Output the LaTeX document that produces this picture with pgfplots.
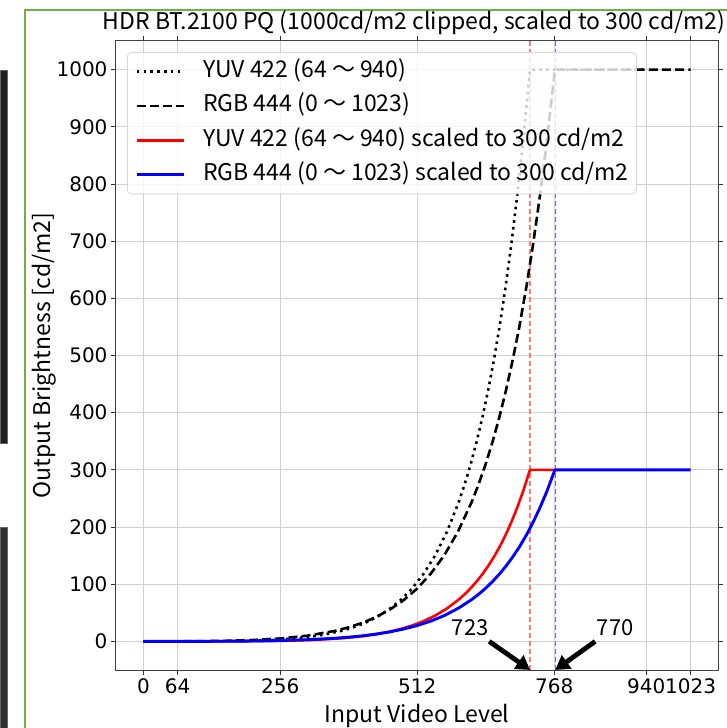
\documentclass[border=0pt]{standalone}
\usepackage{pgfplots}
\pgfplotsset{compat=1.18}
\usetikzlibrary{arrows.meta}
\usepackage{fontspec}
\setmainfont{Noto Sans CJK JP}
\newfontfamily\tickfont{DejaVu Sans}
\definecolor{framegreen}{RGB}{112,176,72}
\definecolor{vred}{RGB}{255,120,120}
\definecolor{vblue}{RGB}{100,100,255}
\begin{document}
\begin{tikzpicture}[x=1pt,y=1pt]
\useasboundingbox (-116,-58) rectangle (610,670);
% screenshot decorations
\fill[black!88,draw=black!60] (-116,600) rectangle (-109,227);
\fill[black!82,draw=black!60] (-116,143) rectangle (-109,-58);
\draw[framegreen,line width=2pt] (-91,-58) -- (-91,660) -- (612,660);
\begin{axis}[
  at={(0,0)}, anchor=south west,
  scale only axis, width=602pt, height=629pt,
  xmin=-51.15, xmax=1074.15, ymin=-50, ymax=1050,
  xtick={0,64,256,512,768,940,1023},
  ytick={0,100,200,300,400,500,600,700,800,900,1000},
  /pgf/number format/assume math mode=true,
  /pgf/number format/1000 sep={},
  ticklabel style={font=\tickfont\fontsize{20}{24}\selectfont},
  tick align=outside, major tick length=5pt,
  tick style={black!80, line width=0.8pt},
  axis line style={black!75, line width=1pt},
  grid=major, grid style={black!18, line width=0.9pt},
  title={HDR BT.2100 PQ (1000cd/m2 clipped, scaled to 300 cd/m2)},
  title style={font=\fontsize{23}{27}\selectfont, at={(axis description cs:0.495,1.0095)}, anchor=base},
  xlabel={Input Video Level},
  ylabel={Output Brightness [cd/m2]},
  label style={font=\fontsize{23}{27}\selectfont},
  xlabel style={at={(axis description cs:0.5,-0.0827)}, anchor=base},
  ylabel style={at={(axis description cs:-0.1096,0.5)}, anchor=base},
  legend cell align=left,
  legend style={at={(0,1)}, anchor=north west, xshift=11pt, yshift=-11pt,
    draw=black!15, line width=0.8pt, rounded corners=4pt, fill=white, fill opacity=0.8, text opacity=1,
    font=\fontsize{23}{27}\selectfont, row sep=12.5pt, column sep=18pt, inner xsep=8pt, inner ysep=8pt,
    nodes={inner sep=0pt, text height=17pt, text depth=5pt}},
  legend image code/.code={\draw[#1] (0pt,0pt) -- (47pt,0pt);},
]
% vertical guide lines
\addplot[vred, dash pattern=on 5pt off 3pt, line width=1.5pt, forget plot] coordinates {(723,-50) (723,1050)};
\addplot[vblue, dash pattern=on 5pt off 3pt, line width=1.7pt, forget plot] coordinates {(770.5,-50) (770.5,1050)};
% YUV 422 full
\addplot[black, line width=2.6pt, dash pattern=on 2.6pt off 4.2pt] coordinates {
(0,0) (64,0) (107.8,0.06) (151.6,0.32) (195.4,1.0) (239.2,2.43) (283,5.16) (326.8,10.0)
(370.6,18.4) (392.5,24.6) (414.4,32.4) (436.3,42.5) (458.2,55.4) (480.1,71.6) (502,92.2)
(523.9,118.3) (545.8,150.9) (567.7,192.2) (589.6,244.0) (600.55,274.6) (611.5,308.9)
(622.45,347.4) (633.4,390.4) (644.35,438.5) (655.3,492.5) (666.25,552.7) (677.2,620.7)
(688.15,696.9) (699.1,781.9) (710.05,876.6) (721,983.3) (722,993.8) (723,1000) (940,1000)};
\addlegendentry{YUV 422 (64 ～ 940)}
% RGB 444 full
\addplot[black, line width=2.6pt, dash pattern=on 9pt off 4.2pt] coordinates {
(0,0) (51.15,0.06) (102.3,0.32) (153.45,1.0) (204.6,2.43) (255.75,5.16) (306.9,10.0)
(358.05,18.4) (383.6,24.6) (409.2,32.4) (434.8,42.5) (460.35,55.4) (485.9,71.6) (511.5,92.2)
(537.1,118.3) (562.65,150.9) (588.2,192.2) (613.8,244.0) (626.6,274.6) (639.4,308.9)
(652.2,347.4) (664.95,390.4) (677.7,438.5) (690.5,492.5) (703.3,552.7) (716.1,620.7)
(728.9,696.9) (741.7,781.9) (754.5,876.6) (767.25,983.3) (769,998) (770,1000) (1023,1000)};
\addlegendentry{RGB 444 (0 ～ 1023)}
% YUV scaled
\addplot[red, line width=2.6pt] coordinates {
(0,0) (64,0) (107.8,0.018) (151.6,0.096) (195.4,0.3) (239.2,0.729) (283,1.548) (326.8,3.0)
(370.6,5.52) (392.5,7.38) (414.4,9.72) (436.3,12.75) (458.2,16.62) (480.1,21.48) (502,27.66)
(523.9,35.49) (545.8,45.27) (567.7,57.66) (589.6,73.2) (600.55,82.38) (611.5,92.67)
(622.45,104.22) (633.4,117.12) (644.35,131.55) (655.3,147.75) (666.25,165.81) (677.2,186.21)
(688.15,209.07) (699.1,234.57) (710.05,262.98) (721,294.99) (722,298.14) (723,300) (768,300)};
\addlegendentry{YUV 422 (64 ～ 940) scaled to 300 cd/m2}
% RGB scaled
\addplot[blue, line width=2.9pt] coordinates {
(0,0) (51.15,0.018) (102.3,0.096) (153.45,0.3) (204.6,0.729) (255.75,1.548) (306.9,3.0)
(358.05,5.52) (383.6,7.38) (409.2,9.72) (434.8,12.75) (460.35,16.62) (485.9,21.48) (511.5,27.66)
(537.1,35.49) (562.65,45.27) (588.2,57.66) (613.8,73.2) (626.6,82.38) (639.4,92.67)
(652.2,104.22) (664.95,117.12) (677.7,131.55) (690.5,147.75) (703.3,165.81) (716.1,186.21)
(728.9,209.07) (741.7,234.57) (754.5,262.98) (767.25,294.99) (769,299.4) (770,300) (1023,300)};
\addlegendentry{RGB 444 (0 ～ 1023) scaled to 300 cd/m2}
% annotations
\node[font=\fontsize{22}{26}\selectfont] at (axis cs:611,24) {723};
\node[font=\fontsize{22}{26}\selectfont] at (axis cs:882,24) {770};
\draw[black, line width=4.8pt, -{Triangle[length=14pt,width=16pt]}] (axis cs:646.5,0) -- (axis cs:723,-50);
\draw[black, line width=4.8pt, -{Triangle[length=14pt,width=16pt]}] (axis cs:844.5,0) -- (axis cs:770,-50);
\end{axis}
\end{tikzpicture}
\end{document}
